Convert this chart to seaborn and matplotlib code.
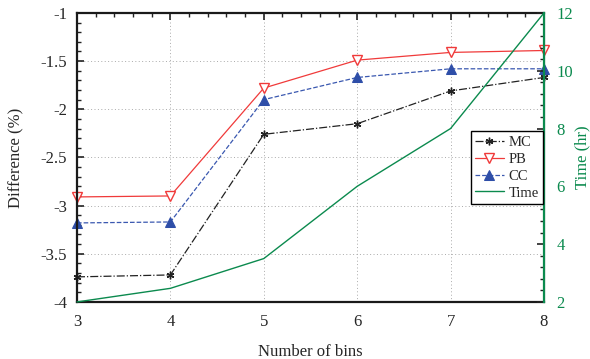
import numpy as np
import pandas as pd
import seaborn as sns
import matplotlib
matplotlib.use("Agg")
import matplotlib.pyplot as plt
from matplotlib.ticker import MultipleLocator, AutoMinorLocator

# data
bins = [3, 4, 5, 6, 7, 8]
mc = [-3.74, -3.72, -2.26, -2.15, -1.81, -1.67]
pb = [-2.91, -2.90, -1.78, -1.49, -1.41, -1.39]
cc = [-3.18, -3.17, -1.90, -1.67, -1.58, -1.58]
time_hr = [2.0, 2.47, 3.5, 6.0, 8.0, 12.0]

sns.set_style("white")
plt.rcParams['font.family'] = ['Liberation Serif', 'DejaVu Serif']

green = '#0b8a4e'

fig = plt.figure(figsize=(5.9, 3.59), dpi=100)
ax = fig.add_axes([0.1305, 0.159, 0.7915, 0.805])

sns.lineplot(x=bins, y=mc, ax=ax, color='#222222', linestyle='-.', lw=0.9,
             marker=(6, 2, 0), markersize=5.5, markeredgewidth=1.0,
             markeredgecolor='#222222', label='MC', clip_on=False)
sns.lineplot(x=bins, y=pb, ax=ax, color='#f03a3a', linestyle='-', lw=0.9,
             marker='v', markersize=6.5, markerfacecolor='white',
             markeredgecolor='#f03a3a', markeredgewidth=1.0, label='PB',
             clip_on=False)
sns.lineplot(x=bins, y=cc, ax=ax, color='#3a58b0', linestyle='--', lw=0.9,
             marker='^', markersize=6.5, markerfacecolor='#2e4ea8',
             markeredgecolor='#2e4ea8', label='CC', clip_on=False)

ax2 = ax.twinx()
sns.lineplot(x=bins, y=time_hr, ax=ax2, color=green, lw=1.0, label='Time',
             clip_on=False)

ax.set_xlim(3, 8)
ax.set_ylim(-4, -1)
ax2.set_ylim(2, 12)
ax.xaxis.set_major_locator(MultipleLocator(1))
ax.xaxis.set_minor_locator(AutoMinorLocator(5))
ax.set_yticks([-4, -3.5, -3, -2.5, -2, -1.5, -1])
ax.set_yticklabels(['-4', '-3.5', '-3', '-2.5', '-2', '-1.5', '-1'])
ax.yaxis.set_minor_locator(AutoMinorLocator(5))
ax2.yaxis.set_major_locator(MultipleLocator(2))
ax2.yaxis.set_minor_locator(AutoMinorLocator(5))

ax.grid(True, which='major', linestyle=(0, (1, 2.5)), color='#aaaaaa', lw=0.7)
ax2.grid(False)

ax.tick_params(axis='both', which='both', direction='in', top=True,
               labelsize=12, color='#222222')
ax.tick_params(which='major', length=5, width=1.2)
ax.tick_params(which='minor', length=3, width=1.0)
ax.tick_params(axis='y', pad=7)
ax.tick_params(axis='x', pad=9)
ax2.tick_params(axis='y', which='both', direction='in', labelsize=12,
                labelcolor=green, color='#222222')
ax2.tick_params(which='major', length=5, width=1.2, pad=9)
ax2.tick_params(which='minor', length=3, width=1.0)

for side in ['left', 'bottom', 'top']:
    ax.spines[side].set_linewidth(1.6)
    ax.spines[side].set_color('#1a1a1a')
ax2.spines['right'].set_color(green)
ax2.spines['right'].set_linewidth(1.6)
ax2.spines['left'].set_visible(False)
ax2.spines['top'].set_visible(False)
ax2.spines['bottom'].set_visible(False)

ax.set_xlabel('Number of bins', fontsize=12, labelpad=10)
ax.set_ylabel('Difference (%)', fontsize=12, labelpad=12)
ax2.set_ylabel('Time (hr)', fontsize=12, color=green, labelpad=1, rotation=90)

h1, l1 = ax.get_legend_handles_labels()
h2, l2 = ax2.get_legend_handles_labels()
ax.get_legend().remove()
leg = ax2.legend(h1 + h2, l1 + l2, loc='upper right',
                 bbox_to_anchor=(0.998, 0.59), fontsize=10.5, frameon=True,
                 fancybox=False, edgecolor='black', framealpha=1,
                 handlelength=2.0, borderpad=0.3, labelspacing=0.25,
                 handletextpad=0.3, borderaxespad=0)
leg.get_frame().set_linewidth(1.0)

fig.savefig('out.png', dpi=100)
